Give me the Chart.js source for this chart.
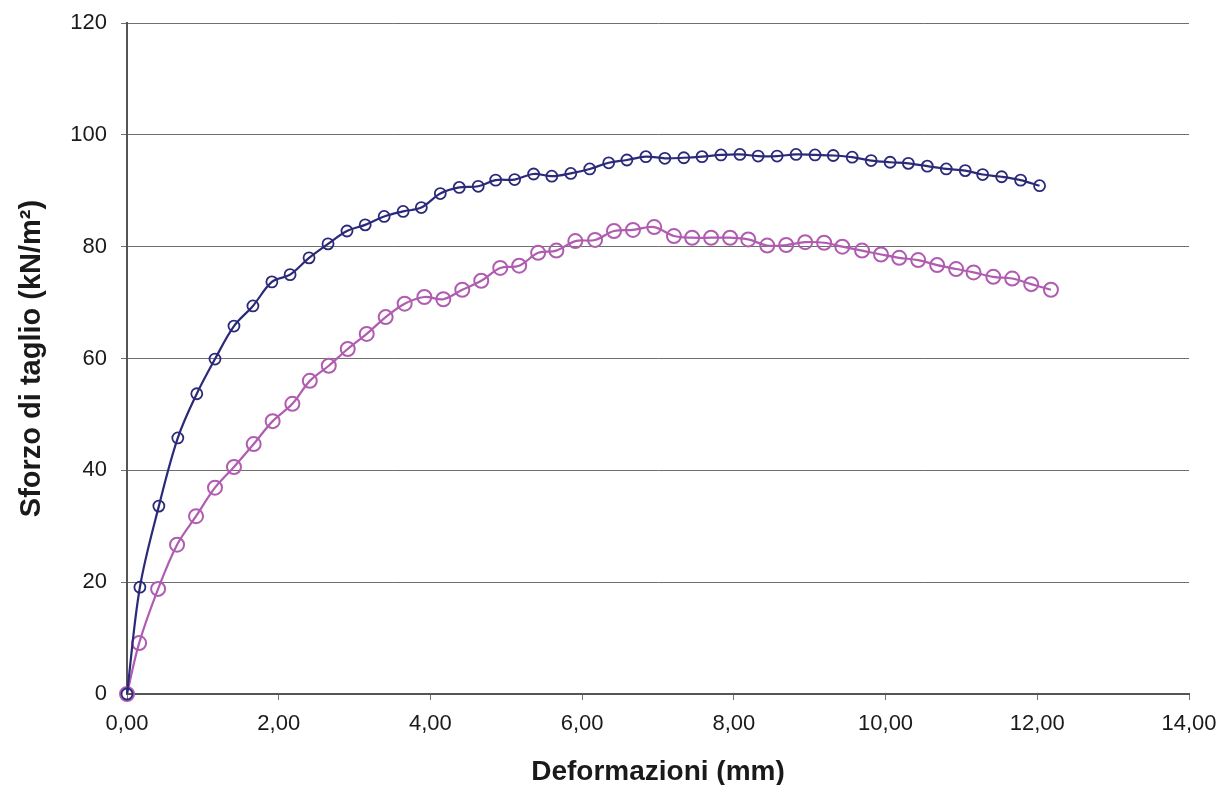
<!DOCTYPE html>
<html>
<head>
<meta charset="utf-8">
<script src="https://cdn.jsdelivr.net/npm/chart.js@4"></script>
<style>
  html, body { margin: 0; padding: 0; background: #ffffff; }
  #wrap { width: 1230px; height: 785px; position: relative; }
</style>
</head>
<body>
<div id="wrap"><canvas id="c" width="1230" height="785"></canvas></div>
<script>
// ---- Data ----
const blueX = [0, 0.17, 0.42, 0.67, 0.92, 1.16, 1.41, 1.66, 1.91, 2.15, 2.40, 2.65, 2.90, 3.14, 3.39, 3.64, 3.88, 4.13, 4.38, 4.63, 4.86, 5.11, 5.36, 5.60, 5.85, 6.10, 6.35, 6.59, 6.84, 7.09, 7.34, 7.58, 7.83, 8.08, 8.32, 8.57, 8.82, 9.07, 9.31, 9.56, 9.81, 10.06, 10.30, 10.55, 10.80, 11.05, 11.28, 11.53, 11.78, 12.03];
const blueY = [0, 19.1, 33.6, 45.8, 53.7, 59.9, 65.8, 69.4, 73.7, 75.0, 78.0, 80.5, 82.8, 83.9, 85.4, 86.3, 87.0, 89.5, 90.6, 90.8, 91.9, 92.0, 93.0, 92.6, 93.1, 93.9, 95.0, 95.5, 96.1, 95.8, 95.9, 96.1, 96.4, 96.5, 96.2, 96.2, 96.5, 96.4, 96.3, 96.0, 95.4, 95.1, 94.9, 94.4, 93.9, 93.6, 92.9, 92.5, 91.9, 90.9];

const pinkX = [0, 0.16, 0.41, 0.66, 0.91, 1.16, 1.41, 1.67, 1.92, 2.18, 2.41, 2.66, 2.91, 3.16, 3.41, 3.66, 3.92, 4.17, 4.42, 4.67, 4.92, 5.17, 5.42, 5.66, 5.91, 6.17, 6.42, 6.67, 6.95, 7.21, 7.45, 7.70, 7.95, 8.19, 8.44, 8.69, 8.94, 9.19, 9.43, 9.69, 9.94, 10.18, 10.43, 10.68, 10.93, 11.16, 11.42, 11.67, 11.92, 12.18];
const pinkY = [0, 9.1, 18.8, 26.7, 31.8, 36.9, 40.6, 44.7, 48.8, 51.9, 56.0, 58.7, 61.7, 64.4, 67.4, 69.8, 71.0, 70.6, 72.3, 73.9, 76.2, 76.6, 78.9, 79.3, 81.0, 81.2, 82.8, 83.0, 83.5, 81.9, 81.6, 81.6, 81.6, 81.3, 80.2, 80.3, 80.8, 80.7, 80.0, 79.3, 78.6, 78.0, 77.6, 76.7, 76.0, 75.4, 74.6, 74.3, 73.3, 72.3];

const xTickLabels = ["0,00", "2,00", "4,00", "6,00", "8,00", "10,00", "12,00", "14,00"];
const yTickLabels = ["0", "20", "40", "60", "80", "100", "120"];

const xTitle = "Deformazioni (mm)";
const yTitle = "Sforzo di taglio (kN/m\u00B2)";

// ---- Build chart ----
const toPts = (xs, ys) => xs.map((x, i) => ({ x: x, y: ys[i] }));

const BLUE = '#2B2A7A';
const PINK = '#B05CB0';
const FONT = "'Liberation Sans', Arial, sans-serif";

new Chart(document.getElementById('c'), {
  type: 'line',
  data: {
    datasets: [
      {
        label: 'A',
        data: toPts(blueX, blueY),
        borderColor: BLUE,
        backgroundColor: 'rgba(0,0,0,0)',
        borderWidth: 2.2,
        tension: 0.35,
        clip: false,
        pointStyle: 'circle',
        pointRadius: 5.5,
        pointBorderWidth: 1.8,
        pointBorderColor: BLUE,
        pointBackgroundColor: 'rgba(0,0,0,0)',
        fill: false
      },
      {
        label: 'B',
        data: toPts(pinkX, pinkY),
        borderColor: PINK,
        backgroundColor: 'rgba(0,0,0,0)',
        borderWidth: 2.2,
        tension: 0.35,
        clip: false,
        pointStyle: 'circle',
        pointRadius: 7,
        pointBorderWidth: 2,
        pointBorderColor: PINK,
        pointBackgroundColor: 'rgba(0,0,0,0)',
        fill: false
      }
    ]
  },
  options: {
    responsive: false,
    animation: false,
    devicePixelRatio: 1,
    layout: { padding: { top: 23, right: 41, left: 0, bottom: 0 } },
    plugins: {
      legend: { display: false },
      tooltip: { enabled: false }
    },
    scales: {
      x: {
        type: 'linear',
        min: 0,
        max: 14,
        afterFit: (s) => { s.height = 91; },
        afterBuildTicks: (s) => {
          s.ticks = xTickLabels.map((l, i) => ({ value: i * 2 }));
        },
        ticks: {
          autoSkip: false,
          maxRotation: 0,
          padding: 11,
          color: '#1a1a1a',
          font: { family: FONT, size: 22 },
          callback: (v, i) => xTickLabels[i]
        },
        grid: {
          drawOnChartArea: false,
          drawTicks: true,
          tickLength: 6,
          color: '#6f6f6f',
          lineWidth: 1
        },
        border: { display: true, color: '#555555', width: 2 },
        title: {
          display: true,
          text: xTitle,
          color: '#1a1a1a',
          font: { family: FONT, size: 28, weight: 'bold', lineHeight: 0.9 },
          padding: { top: 0, bottom: 0 }
        }
      },
      y: {
        type: 'linear',
        min: 0,
        max: 120,
        afterFit: (s) => { s.width = 127; },
        afterBuildTicks: (s) => {
          s.ticks = yTickLabels.map((l, i) => ({ value: i * 20 }));
        },
        ticks: {
          autoSkip: false,
          padding: 14,
          color: '#1a1a1a',
          font: { family: FONT, size: 22, lineHeight: 0.8 },
          callback: (v, i) => yTickLabels[i]
        },
        grid: {
          drawOnChartArea: true,
          drawTicks: true,
          tickLength: 6,
          color: (ctx) => ctx.index === 0 ? 'rgba(0,0,0,0)' : '#6f6f6f',
          lineWidth: 1
        },
        border: { display: true, color: '#555555', width: 2 },
        title: {
          display: true,
          text: yTitle,
          color: '#1a1a1a',
          font: { family: FONT, size: 29, weight: 'bold', lineHeight: 1 },
          padding: { top: 17, bottom: 0 }
        }
      }
    }
  }
});
</script>
</body>
</html>
